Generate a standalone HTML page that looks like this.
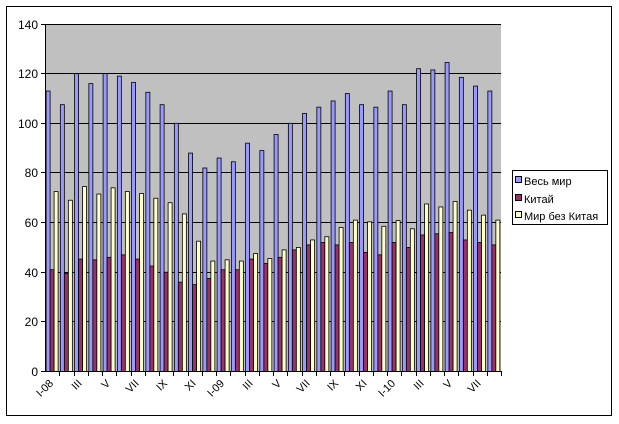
<!DOCTYPE html>
<html><head><meta charset="utf-8"><style>
html,body{margin:0;padding:0;background:#fff;}
svg{display:block;font-family:"Liberation Sans",Arial,sans-serif;}
</style></head><body>
<svg id="c" width="619" height="424" viewBox="0 0 619 424">
<rect x="0" y="0" width="619" height="424" fill="#fff"/>
<rect x="6.5" y="6.5" width="605" height="409" fill="#fff" stroke="#000" stroke-width="1"/>
<rect x="45" y="24" width="456" height="347.5" fill="#c0c0c0"/>
<g stroke="#000" stroke-width="1">
<line x1="45" y1="24.5" x2="501" y2="24.5"/>
<line x1="45" y1="73.5" x2="501" y2="73.5"/>
<line x1="45" y1="123.5" x2="501" y2="123.5"/>
<line x1="45" y1="172.5" x2="501" y2="172.5"/>
<line x1="45" y1="222.5" x2="501" y2="222.5"/>
<line x1="45" y1="272.5" x2="501" y2="272.5"/>
<line x1="45" y1="321.5" x2="501" y2="321.5"/>
<line x1="45.5" y1="24" x2="45.5" y2="372"/>
<line x1="41" y1="24.5" x2="45" y2="24.5"/>
<line x1="41" y1="73.5" x2="45" y2="73.5"/>
<line x1="41" y1="123.5" x2="45" y2="123.5"/>
<line x1="41" y1="172.5" x2="45" y2="172.5"/>
<line x1="41" y1="222.5" x2="45" y2="222.5"/>
<line x1="41" y1="272.5" x2="45" y2="272.5"/>
<line x1="41" y1="321.5" x2="45" y2="321.5"/>
<line x1="41" y1="371.5" x2="45" y2="371.5"/>
</g>
<g id="bars"></g>
<g id="ticks" stroke="#000" stroke-width="1"><line x1="45" y1="371.5" x2="501" y2="371.5"/></g>
<g font-size="12" text-anchor="end" fill="#000">
<text x="38" y="29">140</text>
<text x="38" y="78">120</text>
<text x="38" y="128">100</text>
<text x="38" y="177">80</text>
<text x="38" y="227">60</text>
<text x="38" y="277">40</text>
<text x="38" y="326">20</text>
<text x="38" y="376">0</text>
</g>
<g font-size="11" text-anchor="end" fill="#000">
<text transform="translate(54,384) rotate(-45)">I-08</text>
<text transform="translate(82.5,384) rotate(-45)">III</text>
<text transform="translate(111,384) rotate(-45)">V</text>
<text transform="translate(139.5,384) rotate(-45)">VII</text>
<text transform="translate(168,384) rotate(-45)">IX</text>
<text transform="translate(196.5,384) rotate(-45)">XI</text>
<text transform="translate(225,384) rotate(-45)">I-09</text>
<text transform="translate(253.5,384) rotate(-45)">III</text>
<text transform="translate(282,384) rotate(-45)">V</text>
<text transform="translate(310.5,384) rotate(-45)">VII</text>
<text transform="translate(339,384) rotate(-45)">IX</text>
<text transform="translate(367.5,384) rotate(-45)">XI</text>
<text transform="translate(396,384) rotate(-45)">I-10</text>
<text transform="translate(424.5,384) rotate(-45)">III</text>
<text transform="translate(453,384) rotate(-45)">V</text>
<text transform="translate(481.5,384) rotate(-45)">VII</text>
</g>
<rect x="512.5" y="170.5" width="95" height="54" fill="#fff" stroke="#000"/>
<rect x="515.5" y="176.5" width="6" height="6" fill="#9999ff" stroke="#000"/>
<rect x="515.5" y="194.5" width="6" height="6" fill="#993366" stroke="#000"/>
<rect x="515.5" y="211.5" width="6" height="6" fill="#ffffcc" stroke="#000"/>
<g font-size="11" fill="#000">
<text x="524" y="185">Весь мир</text>
<text x="524" y="203">Китай</text>
<text x="524" y="220">Мир без Китая</text>
</g>
</svg>
<script>
var b=[113,107.5,120,116,120,119,116.5,112.5,107.5,100,88,82,86,84.5,92,89,95.5,100,104,106.5,109,112,107.5,106.5,113,107.5,122,121.5,124.5,118.5,115,113];
var m=[41,39.5,45.3,45,46,47,45.3,42.5,40,36,35,37.5,41,41,45.3,43.5,46,49,51,52,51,52,48,47,52,50,55,55.5,56,53,52,51];
var y=[72.5,69,74.5,71.5,74,72.5,71.7,69.8,68,63.5,52.5,44.5,45,44.5,47.5,45.5,49,50,53,54.3,58,61,60.3,58.5,60.8,57.5,67.5,66.3,68.5,65,63,61];
var cols=["#9999ff","#993366","#ffffcc"],ser=[b,m,y],g=document.getElementById("bars"),t=document.getElementById("ticks"),ns="http://www.w3.org/2000/svg",w=456/32;
for(var i=0;i<32;i++){var x0=45+i*w;
for(var s=0;s<3;s++){var v=ser[s][i],h=v*2.482,r=document.createElementNS(ns,"rect");
r.setAttribute("x",x0+1.1+s*4);r.setAttribute("y",371.5-h);r.setAttribute("width",4);r.setAttribute("height",h);
r.setAttribute("fill",cols[s]);r.setAttribute("stroke","#000");r.setAttribute("stroke-width","0.8");g.appendChild(r);}
var l=document.createElementNS(ns,"line");var xx=Math.round(x0+w)+0.5;l.setAttribute("x1",xx);l.setAttribute("x2",xx);l.setAttribute("y1",371);l.setAttribute("y2",376);t.appendChild(l);}
</script>
</body></html>
